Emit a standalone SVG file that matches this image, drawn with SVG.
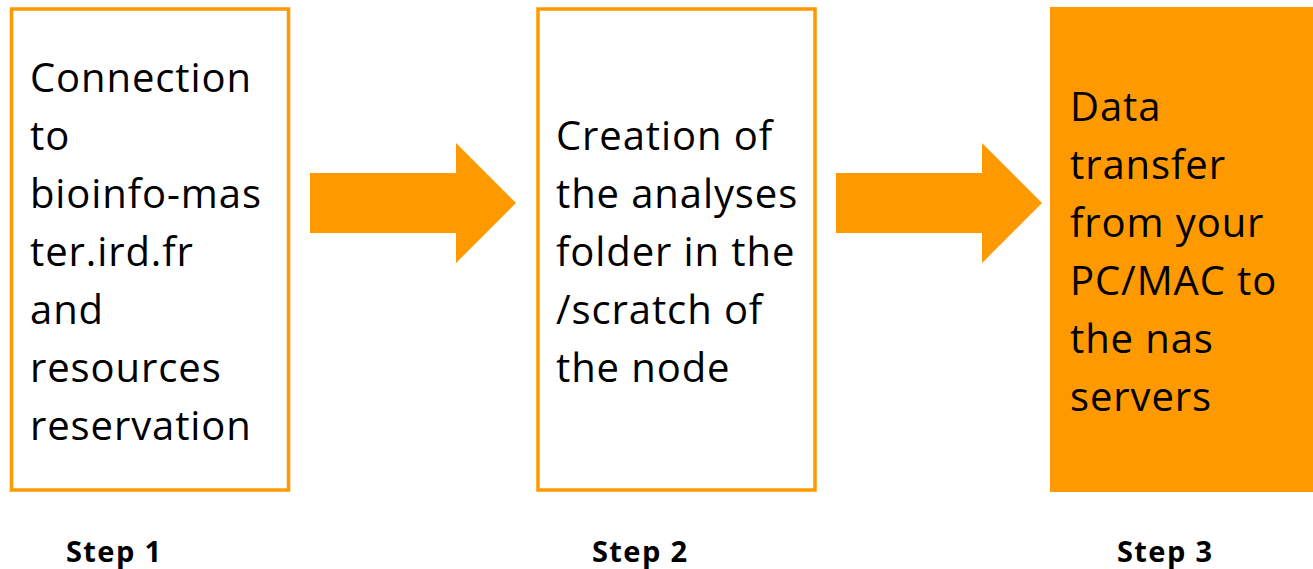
<svg xmlns="http://www.w3.org/2000/svg" width="1313" height="569" viewBox="0 0 1313 569">
<style>
.box{fill:#fff;stroke:#FF9900;stroke-width:3.5}
.fbox{fill:#FF9900;stroke:none}
.arrow{fill:#FF9900}
.t{font-family:"Open Sans","Liberation Sans",sans-serif;font-size:40px;letter-spacing:0.9px;fill:#000}
.s{font-family:"Open Sans","Liberation Sans",sans-serif;font-size:29px;letter-spacing:1.4px;font-weight:bold;fill:#000}
</style>
<rect width="1313" height="569" fill="#fff"/>
<g id="connectors">
<polygon class="arrow" points="310,173 456,173 456,143 516,203 456,263 456,233 310,233"/>
<polygon class="arrow" points="836,173 982,173 982,143 1042,203 982,263 982,233 836,233"/>
</g>
<g id="node1">
<rect class="box" x="11.5" y="9" width="277" height="481"/>
<text class="t"><tspan x="30" y="92">Connection</tspan><tspan x="30" y="150">to</tspan><tspan x="30" y="208">bioinfo-mas</tspan><tspan x="30" y="266">ter.ird.fr</tspan><tspan x="30" y="324">and</tspan><tspan x="30" y="382">resources</tspan><tspan x="30" y="440">reservation</tspan></text>
</g>
<g id="node2">
<rect class="box" x="538" y="9" width="277" height="481"/>
<text class="t"><tspan x="556" y="150">Creation of</tspan><tspan x="556" y="208">the analyses</tspan><tspan x="556" y="266">folder in the</tspan><tspan x="556" y="324">/scratch of</tspan><tspan x="556" y="382">the node</tspan></text>
</g>
<g id="node3">
<rect class="fbox" x="1050" y="7" width="263" height="485"/>
<text class="t"><tspan x="1070" y="121">Data</tspan><tspan x="1070" y="179">transfer</tspan><tspan x="1070" y="237">from your</tspan><tspan x="1070" y="295">PC/MAC to</tspan><tspan x="1070" y="353">the nas</tspan><tspan x="1070" y="411">servers</tspan></text>
</g>
<g id="labels">
<text class="s" x="66" y="562">Step 1</text>
<text class="s" x="592" y="562">Step 2</text>
<text class="s" x="1117" y="562">Step 3</text>
</g>
</svg>
